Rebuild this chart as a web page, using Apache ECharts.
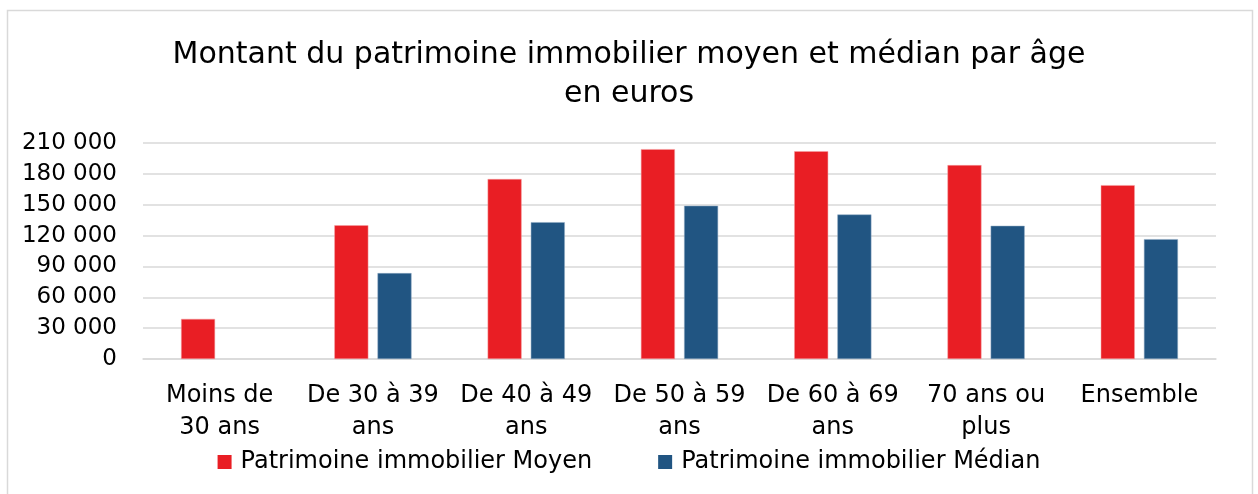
<!DOCTYPE html>
<html lang="fr">
<head>
<meta charset="utf-8">
<title>Patrimoine immobilier par âge</title>
<script src="https://cdn.jsdelivr.net/npm/echarts@6/dist/echarts.min.js"></script>
<style>
  html, body { margin: 0; padding: 0; background: #fff; }
  #chart { width: 1258px; height: 494px; }
</style>
</head>
<body>
<div id="chart"></div>
<script>
// données (euros)
const categories = ['Moins de\n30 ans', 'De 30 à 39\nans', 'De 40 à 49\nans', 'De 50 à 59\nans', 'De 60 à 69\nans', '70 ans ou\nplus', 'Ensemble'];
const moyen = [39000, 130000, 175000, 204000, 202000, 188500, 169000];
const median = [null, 83500, 133000, 149000, 140500, 129500, 116500];
const seriesNames = ['Patrimoine immobilier Moyen', 'Patrimoine immobilier Médian'];

const font = 'DejaVu Sans';
var chart = echarts.init(document.getElementById('chart'));

function fmt(v) {
  return String(v).replace(/\B(?=(\d{3})+(?!\d))/g, ' ');
}

chart.setOption({
  animation: false,
  textStyle: { fontFamily: font },
  graphic: [{
    type: 'rect',
    shape: { x: 7.5, y: 10.5, width: 1245, height: 500 },
    style: { fill: 'none', stroke: '#d9d9d9', lineWidth: 1.5 },
    silent: true
  }],
  title: {
    text: 'Montant du patrimoine immobilier moyen et médian par âge\nen euros',
    left: 'center',
    top: 31,
    textStyle: { fontFamily: font, fontWeight: 'normal', fontSize: 30, color: '#000', lineHeight: 39 }
  },
  legend: {
    bottom: 15,
    left: 'center',
    itemWidth: 14,
    itemHeight: 14,
    itemGap: 66,
    icon: 'rect',
    itemStyle: { borderWidth: 0 },
    textStyle: { fontFamily: font, fontSize: 24, color: '#000', padding: [0, 0, 0, 4] },
    data: seriesNames
  },
  grid: { left: 143, right: 42, top: 143, bottom: 135 },
  xAxis: {
    type: 'category',
    data: categories,
    axisLine: { lineStyle: { color: '#d9d9d9', width: 1.5 } },
    axisTick: { show: false },
    axisLabel: { fontFamily: font, fontSize: 24, color: '#000', lineHeight: 32, margin: 21, interval: 0 }
  },
  yAxis: {
    type: 'value',
    min: 0,
    max: 210000,
    interval: 30000,
    axisLine: { show: false },
    axisTick: { show: false },
    splitLine: { lineStyle: { color: '#d9d9d9', width: 1.5 } },
    axisLabel: { fontFamily: font, fontSize: 23, color: '#000', margin: 26, formatter: fmt }
  },
  series: [
    {
      name: seriesNames[0],
      type: 'bar',
      data: moyen,
      barWidth: 34,
      barGap: '27%',
      itemStyle: { color: '#e91e24', borderColor: '#f5a3a5', borderWidth: 0.5 }
    },
    {
      name: seriesNames[1],
      type: 'bar',
      data: median,
      barWidth: 34,
      itemStyle: { color: '#215582', borderColor: '#8fa9c3', borderWidth: 0.5 }
    }
  ]
});
</script>
</body>
</html>
